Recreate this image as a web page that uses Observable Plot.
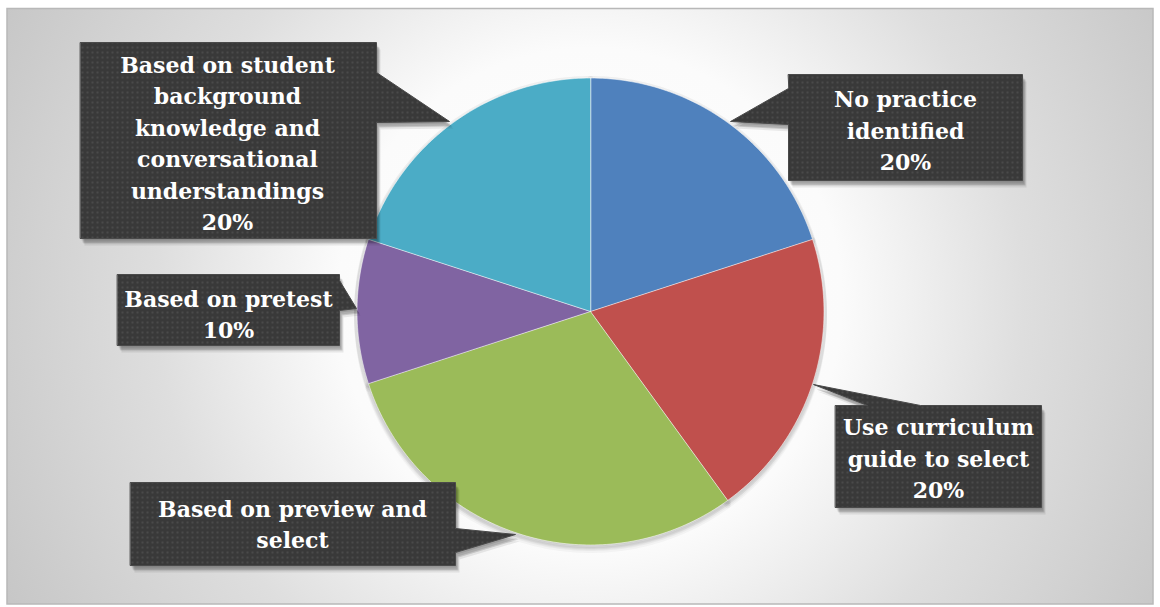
<!DOCTYPE html>
<html><head><meta charset="utf-8">
<script src="https://cdn.jsdelivr.net/npm/d3@7"></script>
<script src="https://cdn.jsdelivr.net/npm/@observablehq/plot@0.6"></script>
<style>body{margin:0;background:#fff;overflow:hidden}</style>
</head><body><div id="chart"></div>
<script>
// ---- data ----
const categories = [
  "No practice identified",
  "Use curriculum guide to select",
  "Based on preview and select",
  "Based on pretest",
  "Based on student background knowledge and conversational understandings"
];
const shares = [20, 20, 30, 10, 20];
const labelTexts = [
  "No practice\nidentified\n20%",
  "Use curriculum\nguide to select\n20%",
  "Based on preview and\nselect",
  "Based on pretest\n10%",
  "Based on student\nbackground\nknowledge and\nconversational\nunderstandings\n20%"
];
const sliceColors = ["#4f81bd", "#c0504d", "#9bbb59", "#8064a2", "#4bacc6"];

// ---- layout (pixels) ----
const W = 1160, H = 607, CX = 590, CY = 311, R = 233.5;
const callouts = [
  {x1: 788, x2: 1022, y1: 74,  y2: 180, side: "left",   b0: 88,  b1: 124, tip: [730, 121], tx: 905, ty: 128},
  {x1: 835, x2: 1041, y1: 405, y2: 507, side: "top",    b0: 867, b1: 920, tip: [813, 384], tx: 938, ty: 456},
  {x1: 130, x2: 455,  y1: 482, y2: 565, side: "right",  b0: 528, b1: 552, tip: [515, 534], tx: 292, ty: 522},
  {x1: 117, x2: 339,  y1: 274, y2: 345, side: "right",  b0: 280, b1: 310, tip: [356, 308], tx: 228, ty: 312},
  {x1: 80,  x2: 376,  y1: 42,  y2: 238, side: "right",  b0: 72,  b1: 122, tip: [449, 121], tx: 227, ty: 141}
];

// pie slice polygons from the shares
const total = d3.sum(shares);
const slicePts = [];
let cum = 0;
shares.forEach((v, i) => {
  const a0 = cum / total * 2 * Math.PI, a1 = (cum + v) / total * 2 * Math.PI;
  cum += v;
  slicePts.push({name: categories[i], x: CX, y: CY});
  const n = Math.max(2, Math.ceil((a1 - a0) / (Math.PI / 180)));
  for (let k = 0; k <= n; k++) {
    const a = a0 + (a1 - a0) * k / n;
    slicePts.push({name: categories[i], x: CX + R * Math.sin(a), y: CY - R * Math.cos(a)});
  }
});

// callout polygons (box + pointer)
const boxPts = [];
callouts.forEach((c, i) => {
  const id = categories[i];
  const P = [];
  P.push([c.x1, c.y1]);
  if (c.side === "top") P.push([c.b0, c.y1], c.tip, [c.b1, c.y1]);
  P.push([c.x2, c.y1]);
  if (c.side === "right") P.push([c.x2, c.b0], c.tip, [c.x2, c.b1]);
  P.push([c.x2, c.y2]);
  if (c.side === "bottom") P.push([c.b1, c.y2], c.tip, [c.b0, c.y2]);
  P.push([c.x1, c.y2]);
  if (c.side === "left") P.push([c.x1, c.b1], c.tip, [c.x1, c.b0]);
  P.forEach(([x, y]) => boxPts.push({id, x, y}));
});
const labels = callouts.map((c, i) => ({x: c.tx, y: c.ty, text: labelTexts[i]}));

// soft shadow layers (offset copies)
const shadowLayers = [[1, 2, 0.10], [2, 4, 0.12], [3, 5, 0.14], [4, 7, 0.08]];
const pieShadowLayers = [[0, 1, 0.05], [0, 3, 0.04], [0, 5, 0.03]];

const chart = Plot.plot({
  width: W, height: H,
  margin: 0,
  x: {domain: [0, W], range: [0, W], axis: null},
  y: {domain: [0, H], range: [0, H], axis: null},
  color: {domain: categories, range: sliceColors},
  marks: [
    Plot.rect([{x1: 7, x2: 1153, y1: 8.5, y2: 604}], {x1: "x1", x2: "x2", y1: "y1", y2: "y2", fill: "url(#bg)", stroke: "#b8b8b8", strokeWidth: 1.5}),
    ...pieShadowLayers.map(([dx, dy, o]) =>
      Plot.line(slicePts, {x: "x", y: "y", z: "name", fill: "#000", fillOpacity: o, stroke: "#000", strokeOpacity: o, strokeWidth: 6, curve: "linear-closed", dx, dy})),
    Plot.line(slicePts, {x: "x", y: "y", z: "name", fill: "name", stroke: "#ffffff", strokeOpacity: 0.55, strokeWidth: 1, curve: "linear-closed"}),
    ...shadowLayers.map(([dx, dy, o]) =>
      Plot.line(boxPts, {x: "x", y: "y", z: "id", fill: "#000", fillOpacity: o, curve: "linear-closed", dx, dy})),
    Plot.line(boxPts, {x: "x", y: "y", z: "id", fill: "url(#dots)", stroke: "#4a4a4a", strokeWidth: 1, curve: "linear-closed"}),
    Plot.text(labels, {x: "x", y: "y", text: "text", fill: "#ffffff", fontSize: 22, fontWeight: "bold", fontFamily: "DejaVu Serif", lineHeight: 1.43})
  ]
});

const svg = d3.select(chart);
const defs = svg.insert("defs", ":first-child");
const grad = defs.append("radialGradient").attr("id", "bg").attr("gradientUnits", "userSpaceOnUse")
  .attr("cx", 590).attr("cy", 300).attr("r", 700);
[[0, "#ffffff"], [0.36, "#fbfbfb"], [0.62, "#dedede"], [0.85, "#cdcdcd"], [1, "#c2c2c2"]]
  .forEach(([o, c]) => grad.append("stop").attr("offset", o).attr("stop-color", c));
const p = defs.append("pattern").attr("id", "dots").attr("patternUnits", "userSpaceOnUse")
  .attr("width", 5).attr("height", 5);
p.append("rect").attr("width", 5).attr("height", 5).attr("fill", "#393939");
p.append("rect").attr("x", 1).attr("y", 1).attr("width", 2).attr("height", 2).attr("fill", "#4a4a4a");

document.getElementById("chart").appendChild(chart);
</script>
</body></html>
